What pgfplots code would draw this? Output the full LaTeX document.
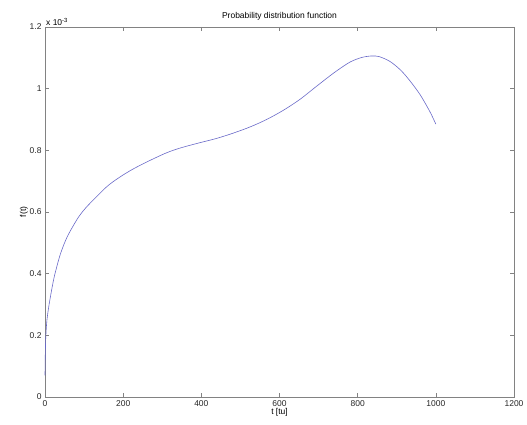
\documentclass[border=0pt]{standalone}
\usepackage{fontspec}
\setmainfont{Liberation Sans}
\usepackage{pgfplots}
\pgfplotsset{compat=1.18}
\begin{document}
\begin{tikzpicture}
\definecolor{axgray}{RGB}{130,130,130}
\definecolor{curve}{RGB}{105,105,200}
\begin{axis}[name=ax,
  scale only axis, width=469bp, height=370bp,
  xmin=0, xmax=1200, ymin=0, ymax=1.2,
  xtick={0,200,...,1200}, ytick={0,0.2,...,1.2},
  tick align=inside, major tick length=4bp,
  xtick pos=both, ytick pos=both,
  axis line style={axgray, line width=0.8pt},
  every tick/.style={axgray, line width=0.6pt},
  tick label style={font=\fontsize{8.5}{10}\selectfont, text=black!85},
  /pgf/number format/assume math mode=true,
  scaled y ticks=false,
  yticklabel style={/pgf/number format/fixed},
  xticklabel style={/pgf/number format/fixed, /pgf/number format/1000 sep={}},
  title={Probability distribution function},
  title style={font=\fontsize{8.5}{10}\selectfont, yshift=-3bp},
  xlabel={t [tu]}, ylabel={f(t)},
  label style={font=\fontsize{8.5}{10}\selectfont},
  xlabel style={yshift=5bp}, ylabel style={yshift=-5bp},
  clip=false,
]
\addplot[curve, line width=0.6pt, smooth, tension=0.5] coordinates {
(0,0.07) (0.5,0.12) (1,0.15) (2,0.195) (5,0.25) (11,0.304) (21,0.374) (28,0.412) (40,0.466) (57,0.52) (81,0.574) (96,0.601) (115,0.628) (158,0.682) (190,0.712) (222,0.737) (260,0.762) (311,0.792) (350,0.809) (397,0.825) (440,0.839) (482,0.856) (525,0.876) (567,0.9) (610,0.93) (652,0.965) (695,1.008) (740,1.052) (780,1.086) (810,1.101) (835,1.106) (855,1.104) (883,1.088) (910,1.06) (934,1.025) (960,0.98) (985,0.925) (1000,0.885)
};
\node[anchor=south west, font=\fontsize{8.5}{10}\selectfont, inner sep=1bp] at (rel axis cs:0,1) {x 10\textsuperscript{-3}};
\end{axis}
\pgfresetboundingbox
\path ([shift={(-45bp,-28bp)}]ax.south west) rectangle ([shift={(13bp,27bp)}]ax.north east);
\end{tikzpicture}
\end{document}
